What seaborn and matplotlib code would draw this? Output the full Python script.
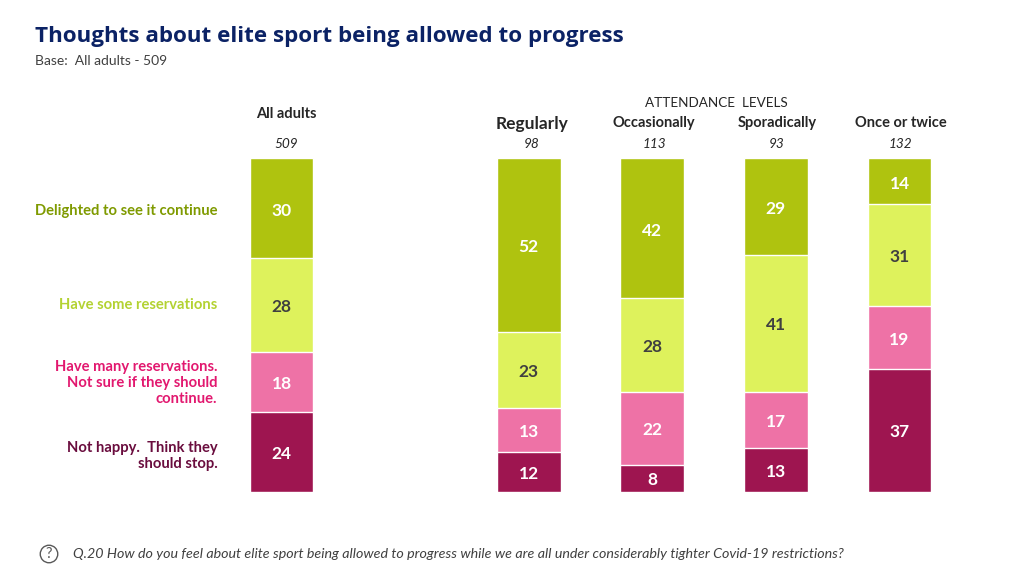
import matplotlib
matplotlib.use('Agg')
import matplotlib.pyplot as plt
import numpy as np
import pandas as pd
import seaborn as sns

W, H = 1032, 579

# blank entry keeps the gap between all adults and the attendance columns
groups = ['All adults', '', 'Regularly', 'Occasionally', 'Sporadically', 'Once or twice']
bases = ['509', '', '98', '113', '93', '132']
delighted = [30, 0, 52, 42, 29, 13.8]
some_res = [28, 0, 23, 28, 41, 30.6]
many_res = [18, 0, 13, 22, 17, 18.9]
not_happy = [24, 0, 12, 8, 13, 36.7]

bar_colors = ['#afc30f', '#def25c', '#ee72a6', '#9e1550']
value_colors = ['white', '#404040', 'white', 'white']
side_colors = ['#7f9a00', '#b3d232', '#e2186f', '#6a0d3e']
side_labels = ['Delighted to see it continue', 'Have some reservations',
               'Have many reservations.\nNot sure if they should\ncontinue.',
               'Not happy.  Think they\nshould stop.']
side_y = [211, 305, 383, 456]
head_y = [114, 0, 124, 123, 123, 123]
head_dx = [5, 0, 3, 2, 1, 1]
head_size = [10.5, 0, 12.5, 10.5, 10.5, 10.5]

sns.set_theme(style='white')
plt.rcParams['font.family'] = ['Lato', 'DejaVu Sans']

def fx(x):
    return x / W

def fy(y):
    return 1 - y / H

fig = plt.figure(figsize=(W / 100, H / 100), dpi=100)
ax = fig.add_axes([fx(219.7), fy(491.5), fx(961.3 - 219.7), (491.5 - 158.5) / H])

# stacks drawn as overlaid running totals, tallest first
series = [delighted, some_res, many_res, not_happy]
tops = np.cumsum(np.array(series[::-1]), axis=0)[::-1]
for top, col in zip(tops, bar_colors):
    df = pd.DataFrame({'group': groups, 'value': top})
    sns.barplot(data=df, x='group', y='value', order=groups, color=col, saturation=1,
                width=0.515, edgecolor='white', linewidth=1, ax=ax)

for s, top, col in zip(series, tops, value_colors):
    for i, v in enumerate(s):
        if v > 0:
            ax.annotate(f'{v:.0f}', (i, top[i] - v / 2), xytext=(0, -1.5), textcoords='offset points',
                        ha='center', va='center', color=col, fontsize=12.5, fontweight='bold')

ax.set_xlim(-0.5, len(groups) - 0.5)
ax.set_ylim(0, 100)
ax.axis('off')

# column headers sit above the axes
for i, g in enumerate(groups):
    if g:
        ax.annotate(g, (i, 1), xycoords=ax.get_xaxis_transform(),
                    xytext=(head_dx[i] * 0.72, (158.5 - head_y[i]) * 0.72),
                    textcoords='offset points', ha='center', va='center', fontsize=head_size[i],
                    fontweight='bold', color='#262626', annotation_clip=False)
        ax.annotate(bases[i], (i, 1), xycoords=ax.get_xaxis_transform(),
                    xytext=(head_dx[i] * 0.72, 14 * 0.72),
                    textcoords='offset points', ha='center', va='center', fontsize=9.8,
                    style='italic', color='#262626', annotation_clip=False)

for lab, y, col in zip(side_labels, side_y, side_colors):
    fig.text(fx(217.5), fy(y), lab, ha='right', va='center', color=col, fontsize=10.6,
             fontweight='bold', linespacing=1.15)

fig.text(fx(35), fy(36.5), 'Thoughts about elite sport being allowed to progress', ha='left', va='center',
         color='#0b2265', fontsize=16.1, fontweight='bold', family=['Open Sans', 'DejaVu Sans'])
fig.text(fx(35), fy(61), 'Base:  All adults - 509', ha='left', va='center', color='#404040', fontsize=10)
fig.text(fx(716.5), fy(103), 'ATTENDANCE  LEVELS', ha='center', va='center', color='#262626', fontsize=9.7)
fig.text(fx(49), fy(554), '?', ha='center', va='center', color='#595959', fontsize=10.5,
         bbox=dict(boxstyle='circle,pad=0.12', fc='white', ec='#595959', lw=1))
fig.text(fx(73), fy(554), 'Q.20 How do you feel about elite sport being allowed to progress while we are all under considerably tighter Covid-19 restrictions?',
         ha='left', va='center', color='#404040', fontsize=10.3, style='italic')

fig.savefig('out.png', dpi=100)
